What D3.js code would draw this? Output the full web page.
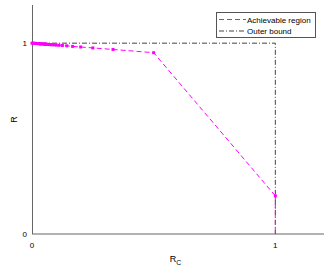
<!DOCTYPE html>
<html>
<head>
<meta charset="utf-8">
<script src="https://cdn.jsdelivr.net/npm/d3@7"></script>
<style>
  body { margin: 0; background: #fff; }
  text { font-family: "Liberation Sans", Arial, sans-serif; fill: #000; }
</style>
</head>
<body>
<div id="chart"></div>
<script>
// achievable region points (R_C, R)
let achX = [1, 0.5, 0.333, 0.25, 0.2, 0.167, 0.143, 0.125, 0.111, 0.1, 0.091, 0.083,
  0.077, 0.071, 0.067, 0.063, 0.059, 0.056, 0.053, 0.05, 0.045, 0.04, 0.036, 0.033,
  0.029, 0.025, 0.02, 0.017, 0.013, 0.01, 0.005, 0];
let achY = [0.2, 0.95, 0.967, 0.975, 0.98, 0.983, 0.986, 0.988, 0.989, 0.99, 0.991, 0.992,
  0.992, 0.993, 0.993, 0.994, 0.994, 0.994, 0.995, 0.995, 0.996, 0.996, 0.996, 0.997,
  0.997, 0.998, 0.998, 0.998, 0.999, 0.999, 1, 1];
// line runs down to the axis at R_C = 1
let achTailX = [1, 1];
let achTailY = [0.2, 0];

// outer bound
let outerX = [0, 1, 1];
let outerY = [1, 1, 0];

let xTicks = [0, 1];
let yTicks = [0, 1];
let legendLabels = ["Achievable region", "Outer bound"];

let width = 333, height = 268;
let margin = { top: 5, right: 9, bottom: 34, left: 32 };

let svg = d3.select("#chart").append("svg")
  .attr("width", width)
  .attr("height", height);

let x = d3.scaleLinear().domain([0, 1.2]).range([margin.left, width - margin.right]);
let y = d3.scaleLinear().domain([0, 1.2]).range([height - margin.bottom, margin.top]);

// axes lines
svg.append("line")
  .attr("x1", x(0)).attr("x2", x(1.2))
  .attr("y1", y(0)).attr("y2", y(0))
  .style("stroke", "#999").style("stroke-width", 1.5);
svg.append("line")
  .attr("x1", x(0) + 0.5).attr("x2", x(0) + 0.5)
  .attr("y1", y(0)).attr("y2", y(1.2))
  .style("stroke", "#666").style("stroke-width", 1);

// tick labels
svg.selectAll(".xt").data(xTicks).enter().append("text")
  .attr("x", (d) => x(d)).attr("y", y(0) + 14)
  .attr("text-anchor", "middle")
  .style("font-size", "8px")
  .text((d) => d);
svg.selectAll(".yt").data(yTicks).enter().append("text")
  .attr("x", x(0) - 5).attr("y", (d) => y(d) + 3)
  .attr("text-anchor", "end")
  .style("font-size", "8px")
  .text((d) => d);

// axis labels
let xl = svg.append("text")
  .attr("x", x(0.59)).attr("y", y(0) + 28)
  .attr("text-anchor", "middle")
  .style("font-size", "9px");
xl.append("tspan").text("R");
xl.append("tspan").attr("dy", 3).style("font-size", "7px").text("C");

svg.append("text")
  .attr("transform", "translate(17," + y(0.6) + ") rotate(-90)")
  .attr("text-anchor", "middle")
  .style("font-size", "9px")
  .text("R");

let line = d3.line().x((d) => x(d[0])).y((d) => y(d[1]));

// outer bound
let outerPts = outerX.map((v, i) => [v, outerY[i]]);
svg.append("path")
  .attr("d", line(outerPts))
  .style("fill", "none")
  .style("stroke", "#444")
  .style("stroke-width", 1)
  .style("stroke-dasharray", "5,2,1,2");

// achievable region
let achPts = achX.map((v, i) => [v, achY[i]]);
let tailPts = achTailX.map((v, i) => [v, achTailY[i]]);
svg.append("path")
  .attr("d", line(achPts))
  .style("fill", "none")
  .style("stroke", "#ff00ff")
  .style("stroke-width", 1)
  .style("stroke-dasharray", "5,3");
svg.append("path")
  .attr("d", line(tailPts))
  .style("fill", "none")
  .style("stroke", "#ff00ff")
  .style("stroke-width", 1)
  .style("stroke-dasharray", "5,3");

svg.selectAll(".pt").data(achPts).enter().append("rect")
  .attr("x", (d) => x(d[0]) - 1.5)
  .attr("y", (d) => y(d[1]) - 1.5)
  .attr("width", 3).attr("height", 3)
  .style("fill", "#ff00ff");

// legend
let lg = svg.append("g").attr("transform", "translate(216,12)");
lg.append("rect")
  .attr("x", 0.5).attr("y", 0.5)
  .attr("width", 99).attr("height", 25)
  .style("fill", "#fff").style("stroke", "#555").style("stroke-width", 1);
let styles = [
  { c: "#ff00ff", d: "5,3" },
  { c: "#444", d: "5,2,1,2" },
];
legendLabels.forEach(function (lab, i) {
  let yy = 7.5 + i * 11.5;
  lg.append("line")
    .attr("x1", 3).attr("x2", 30)
    .attr("y1", yy).attr("y2", yy)
    .style("stroke", styles[i].c)
    .style("stroke-dasharray", styles[i].d);
  lg.append("text")
    .attr("x", 31).attr("y", yy + 3)
    .style("font-size", "8px")
    .text(lab);
});
</script>
</body>
</html>
